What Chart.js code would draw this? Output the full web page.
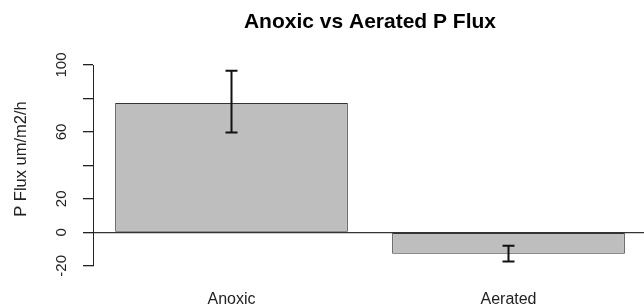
<!DOCTYPE html>
<html>
<head>
<meta charset="utf-8">
<script src="https://cdn.jsdelivr.net/npm/chart.js@4/dist/chart.umd.min.js"></script>
<style>
  html, body { margin: 0; padding: 0; background: #fff; overflow: hidden; }
  /* plot region runs slightly past the right edge, as in the cropped original */
  #wrap { width: 647px; height: 304px; }
</style>
</head>
<body>
<div id="wrap"><canvas id="flux-chart"></canvas></div>
<script>
const categories = ['Anoxic', 'Aerated'];
const fluxMeans = [77.3, -12.8];
const fluxLow = [59.6, -17.5];
const fluxHigh = [96.6, -8.0];
const labelledTicks = [-20, 0, 20, 60, 100];

const FONT = '"Liberation Sans", Arial, sans-serif';

// R-style title and y label
const plotText = {
    id: 'plotText',
    afterDraw(chart) {
        const { ctx, chartArea } = chart;
        ctx.save();
        ctx.font = 'bold 21px ' + FONT;
        ctx.fillStyle = '#000';
        ctx.textAlign = 'center';
        ctx.textBaseline = 'middle';
        ctx.fillText('Anoxic vs Aerated P Flux', (chartArea.left + chartArea.right) / 2, 22);

        ctx.font = '16.5px ' + FONT;
        ctx.fillStyle = '#222';
        ctx.translate(21, 159);
        ctx.rotate(-Math.PI / 2);
        ctx.fillText('P Flux um/m2/h', 0, 0);
        ctx.restore();
    }
};

// vertical tick labels like las=0 in R
const sideLabels = {
    id: 'sideLabels',
    afterDraw(chart) {
        const { ctx } = chart;
        const y = chart.scales.y;
        ctx.save();
        ctx.font = '15px ' + FONT;
        ctx.fillStyle = '#222';
        ctx.textAlign = 'center';
        ctx.textBaseline = 'middle';
        labelledTicks.forEach(v => {
            ctx.save();
            ctx.translate(62, y.getPixelForValue(v));
            ctx.rotate(-Math.PI / 2);
            ctx.fillText(String(v), 0, 0);
            ctx.restore();
        });
        ctx.restore();
    }
};

const errorBars = {
    id: 'errorBars',
    afterDatasetsDraw(chart) {
        const { ctx } = chart;
        const x = chart.scales.x;
        const y = chart.scales.y;
        ctx.save();
        ctx.strokeStyle = '#111';
        ctx.lineWidth = 2;
        categories.forEach((c, i) => {
            const px = x.getPixelForValue(i);
            const top = y.getPixelForValue(fluxHigh[i]);
            const bot = y.getPixelForValue(fluxLow[i]);
            ctx.beginPath();
            ctx.moveTo(px, top);
            ctx.lineTo(px, bot);
            ctx.moveTo(px - 6, top);
            ctx.lineTo(px + 6, top);
            ctx.moveTo(px - 6, bot);
            ctx.lineTo(px + 6, bot);
            ctx.stroke();
        });
        ctx.restore();
    }
};

new Chart(document.getElementById('flux-chart'), {
    type: 'bar',
    data: {
        labels: categories,
        datasets: [{
            data: fluxMeans,
            backgroundColor: '#bebebe',
            borderColor: '#333',
            borderWidth: 1,
            borderSkipped: false,
            barPercentage: 0.84,
            categoryPercentage: 1
        }]
    },
    options: {
        responsive: true,
        maintainAspectRatio: false,
        animation: false,
        layout: { padding: { top: 65, right: 0, bottom: -29, left: 0 } },
        plugins: {
            legend: { display: false },
            tooltip: { enabled: false }
        },
        scales: {
            x: {
                grid: { display: false, drawTicks: false },
                border: { display: false },
                ticks: {
                    padding: 24,
                    color: '#222',
                    font: { family: FONT, size: 16 }
                }
            },
            y: {
                min: -20,
                max: 100,
                afterFit(scale) { scale.width = 93; },
                border: { display: true, color: '#222', width: 1 },
                grid: {
                    drawTicks: true,
                    tickLength: 10,
                    tickColor: '#222',
                    lineWidth: 1.3,
                    color: ctx => (ctx.tick && ctx.tick.value === 0 ? '#333' : 'rgba(0,0,0,0)')
                },
                ticks: {
                    stepSize: 20,
                    display: false
                }
            }
        }
    },
    plugins: [plotText, sideLabels, errorBars]
});
</script>
</body>
</html>
